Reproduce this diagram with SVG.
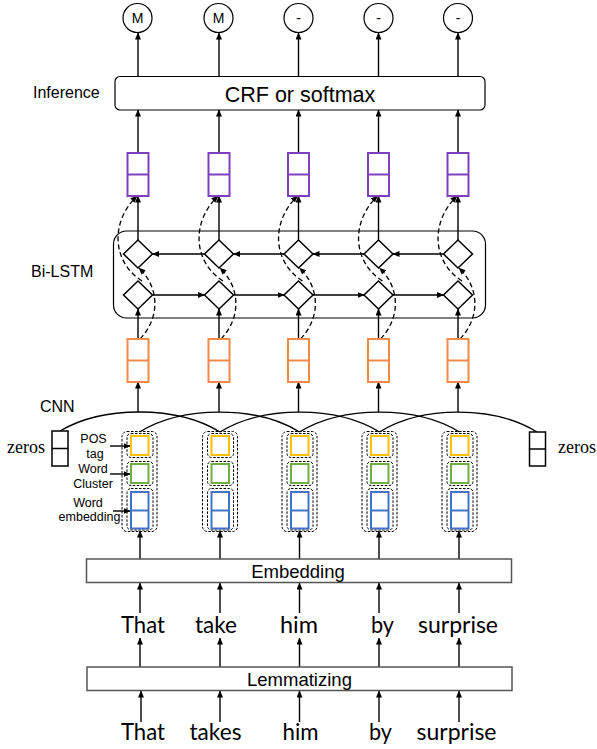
<svg xmlns="http://www.w3.org/2000/svg" width="597" height="749" viewBox="0 0 597 749">
<defs>
<marker id="ah" markerUnits="userSpaceOnUse" markerWidth="7" markerHeight="6" refX="6.5" refY="3" orient="auto">
<path d="M0,0 L7,3 L0,6 z" fill="#000"/>
</marker>
<style>
.ln{stroke:#000;stroke-width:1.4;fill:none}
.ar{stroke:#000;stroke-width:1.4;fill:none;marker-end:url(#ah)}
.da{stroke:#000;stroke-width:1.3;fill:none;stroke-dasharray:5,3;marker-end:url(#ah)}
.dg{stroke:#000;stroke-width:1;fill:none;stroke-dasharray:2.5,1.5}
.cir{stroke:#000;stroke-width:1.2;fill:#fff}
.dia{stroke:#000;stroke-width:1.5;fill:#fff}
.pur{stroke:#7F3FBF;stroke-width:2;fill:#fff}
.ora{stroke:#F08A48;stroke-width:2;fill:#fff}
.yel{stroke:#FFC000;stroke-width:2;fill:#fff}
.grn{stroke:#70AD47;stroke-width:2;fill:#fff}
.blu{stroke:#4472C4;stroke-width:2;fill:#fff}
.blk{stroke:#000;stroke-width:1.5;fill:#fff}
.bx{stroke:#555;stroke-width:1.5;fill:#fff}
.sans{font-family:"Liberation Sans",Arial,sans-serif;fill:#000}
.wd{font-family:Lato,"Noto Sans",sans-serif;font-size:23px;fill:#000;text-anchor:middle}
</style>
</defs>

<!-- connectors -->
<g id="connectors">
<line class="ar" x1="138" y1="77" x2="138" y2="33"/>
<line class="ar" x1="219" y1="77" x2="219" y2="33"/>
<line class="ar" x1="298.5" y1="77" x2="298.5" y2="33"/>
<line class="ar" x1="378.5" y1="77" x2="378.5" y2="33"/>
<line class="ar" x1="458" y1="77" x2="458" y2="33"/>
<line class="ar" x1="138" y1="153" x2="138" y2="110"/>
<line class="ar" x1="219" y1="153" x2="219" y2="110"/>
<line class="ar" x1="298.5" y1="153" x2="298.5" y2="110"/>
<line class="ar" x1="378.5" y1="153" x2="378.5" y2="110"/>
<line class="ar" x1="458" y1="153" x2="458" y2="110"/>
<line class="ar" x1="138" y1="240" x2="138" y2="196"/>
<line class="ar" x1="219" y1="240" x2="219" y2="196"/>
<line class="ar" x1="298.5" y1="240" x2="298.5" y2="196"/>
<line class="ar" x1="378.5" y1="240" x2="378.5" y2="196"/>
<line class="ar" x1="458" y1="240" x2="458" y2="196"/>
<line class="ar" x1="138" y1="339" x2="138" y2="309"/>
<line class="ar" x1="219" y1="339" x2="219" y2="309"/>
<line class="ar" x1="298.5" y1="339" x2="298.5" y2="309"/>
<line class="ar" x1="378.5" y1="339" x2="378.5" y2="309"/>
<line class="ar" x1="458" y1="339" x2="458" y2="309"/>
<line class="ar" x1="204.5" y1="254" x2="152.5" y2="254"/>
<line class="ar" x1="284" y1="254" x2="233.5" y2="254"/>
<line class="ar" x1="364" y1="254" x2="313" y2="254"/>
<line class="ar" x1="443.5" y1="254" x2="393" y2="254"/>
<line class="ar" x1="152.5" y1="295" x2="204.5" y2="295"/>
<line class="ar" x1="233.5" y1="295" x2="284" y2="295"/>
<line class="ar" x1="313" y1="295" x2="364" y2="295"/>
<line class="ar" x1="393" y1="295" x2="443.5" y2="295"/>
<path class="da" d="M140,339 C160,318 160,288 139,268"/>
<path class="da" d="M142,281 C112,262 110,222 137,196"/>
<path class="da" d="M221,339 C241,318 241,288 220,268"/>
<path class="da" d="M223,281 C193,262 191,222 218,196"/>
<path class="da" d="M300.5,339 C320.5,318 320.5,288 299.5,268"/>
<path class="da" d="M302.5,281 C272.5,262 270.5,222 297.5,196"/>
<path class="da" d="M380.5,339 C400.5,318 400.5,288 379.5,268"/>
<path class="da" d="M382.5,281 C352.5,262 350.5,222 377.5,196"/>
<path class="da" d="M460,339 C480,318 480,288 459,268"/>
<path class="da" d="M462,281 C432,262 430,222 457,196"/>
<path class="ln" d="M60,431 C103,405.5 177,405.5 220,432"/>
<path class="ln" d="M139.5,432 C182.5,405.5 256.5,405.5 299.5,432"/>
<path class="ln" d="M220,432 C263,405.5 336.5,405.5 379.5,432"/>
<path class="ln" d="M299.5,432 C342.5,405.5 416.5,405.5 459.5,432"/>
<path class="ln" d="M379.5,432 C422,405.5 494,405.5 537,432"/>
<line class="ar" x1="138" y1="412" x2="138" y2="382"/>
<line class="ar" x1="219" y1="412" x2="219" y2="382"/>
<line class="ar" x1="298.5" y1="412" x2="298.5" y2="382"/>
<line class="ar" x1="378.5" y1="412" x2="378.5" y2="382"/>
<line class="ar" x1="458" y1="412" x2="458" y2="382"/>
<line class="ar" x1="110" y1="446" x2="130" y2="446"/>
<line class="ar" x1="110" y1="474" x2="130" y2="474"/>
<line class="ar" x1="113" y1="511" x2="130" y2="511"/>
<line class="ar" x1="140" y1="559" x2="140" y2="531"/>
<line class="ar" x1="220" y1="559" x2="220" y2="531"/>
<line class="ar" x1="299.5" y1="559" x2="299.5" y2="531"/>
<line class="ar" x1="379" y1="559" x2="379" y2="531"/>
<line class="ar" x1="459" y1="559" x2="459" y2="531"/>
<line class="ar" x1="140" y1="613" x2="140" y2="583"/>
<line class="ar" x1="220" y1="613" x2="220" y2="583"/>
<line class="ar" x1="299.5" y1="613" x2="299.5" y2="583"/>
<line class="ar" x1="379" y1="613" x2="379" y2="583"/>
<line class="ar" x1="459" y1="613" x2="459" y2="583"/>
<line class="ar" x1="140" y1="667" x2="140" y2="638"/>
<line class="ar" x1="220" y1="667" x2="220" y2="638"/>
<line class="ar" x1="299.5" y1="667" x2="299.5" y2="638"/>
<line class="ar" x1="379" y1="667" x2="379" y2="638"/>
<line class="ar" x1="459" y1="667" x2="459" y2="638"/>
<line class="ar" x1="141" y1="722" x2="141" y2="691"/>
<line class="ar" x1="220" y1="722" x2="220" y2="691"/>
<line class="ar" x1="299.5" y1="722" x2="299.5" y2="691"/>
<line class="ar" x1="379" y1="722" x2="379" y2="691"/>
<line class="ar" x1="459" y1="722" x2="459" y2="691"/>
</g>

<g id="out1"><circle class="cir" cx="137.5" cy="18" r="14.5"/><text class="sans" x="137.5" y="23" font-size="14" text-anchor="middle">M</text></g>
<g id="out2"><circle class="cir" cx="218.5" cy="18" r="14.5"/><text class="sans" x="218.5" y="23" font-size="14" text-anchor="middle">M</text></g>
<g id="out3"><circle class="cir" cx="298.5" cy="18" r="14.5"/><text class="sans" x="298.5" y="23" font-size="14" text-anchor="middle">-</text></g>
<g id="out4"><circle class="cir" cx="378.5" cy="18" r="14.5"/><text class="sans" x="378.5" y="23" font-size="14" text-anchor="middle">-</text></g>
<g id="out5"><circle class="cir" cx="458" cy="18" r="14.5"/><text class="sans" x="458" y="23" font-size="14" text-anchor="middle">-</text></g>

<g id="inference">
<text class="sans" x="33" y="98" font-size="16">Inference</text>
<rect x="115" y="76.5" width="370" height="33.5" rx="5" fill="#fff" stroke="#000" stroke-width="1.2"/>
<text class="sans" x="300" y="102" font-size="21.5" text-anchor="middle">CRF or softmax</text>
</g>

<g id="bilstm-out">
<rect class="pur" x="127.5" y="153" width="21" height="43"/><line class="pur" x1="127.5" y1="174.5" x2="148.5" y2="174.5"/>
<rect class="pur" x="208.5" y="153" width="21" height="43"/><line class="pur" x1="208.5" y1="174.5" x2="229.5" y2="174.5"/>
<rect class="pur" x="288" y="153" width="21" height="43"/><line class="pur" x1="288" y1="174.5" x2="309" y2="174.5"/>
<rect class="pur" x="368" y="153" width="21" height="43"/><line class="pur" x1="368" y1="174.5" x2="389" y2="174.5"/>
<rect class="pur" x="447.5" y="153" width="21" height="43"/><line class="pur" x1="447.5" y1="174.5" x2="468.5" y2="174.5"/>
</g>

<g id="bilstm">
<text class="sans" x="31" y="277" font-size="16">Bi-LSTM</text>
<rect x="113.5" y="231" width="372" height="87" rx="13" fill="none" stroke="#000" stroke-width="1.2"/>
<g id="cells">
<path class="dia" d="M138,240 L152.5,254 L138,268 L123.5,254 z"/>
<path class="dia" d="M138,281 L152.5,295 L138,309 L123.5,295 z"/>
<path class="dia" d="M219,240 L233.5,254 L219,268 L204.5,254 z"/>
<path class="dia" d="M219,281 L233.5,295 L219,309 L204.5,295 z"/>
<path class="dia" d="M298.5,240 L313,254 L298.5,268 L284,254 z"/>
<path class="dia" d="M298.5,281 L313,295 L298.5,309 L284,295 z"/>
<path class="dia" d="M378.5,240 L393,254 L378.5,268 L364,254 z"/>
<path class="dia" d="M378.5,281 L393,295 L378.5,309 L364,295 z"/>
<path class="dia" d="M458,240 L472.5,254 L458,268 L443.5,254 z"/>
<path class="dia" d="M458,281 L472.5,295 L458,309 L443.5,295 z"/>
</g>
</g>

<g id="cnn-out">
<rect class="ora" x="127.5" y="339" width="21" height="43"/><line class="ora" x1="127.5" y1="360.5" x2="148.5" y2="360.5"/>
<rect class="ora" x="208.5" y="339" width="21" height="43"/><line class="ora" x1="208.5" y1="360.5" x2="229.5" y2="360.5"/>
<rect class="ora" x="288" y="339" width="21" height="43"/><line class="ora" x1="288" y1="360.5" x2="309" y2="360.5"/>
<rect class="ora" x="368" y="339" width="21" height="43"/><line class="ora" x1="368" y1="360.5" x2="389" y2="360.5"/>
<rect class="ora" x="447.5" y="339" width="21" height="43"/><line class="ora" x1="447.5" y1="360.5" x2="468.5" y2="360.5"/>
</g>

<g id="cnn-label"><text class="sans" x="40" y="412" font-size="16">CNN</text></g>

<g id="zeros-left">
<text x="7" y="453" font-size="18" font-family="'Liberation Serif', 'DejaVu Serif', serif" fill="#000">zeros</text>
<rect class="blk" x="52" y="431" width="16" height="35"/><line class="blk" x1="52" y1="448.5" x2="68" y2="448.5"/>
</g>
<g id="zeros-right">
<rect class="blk" x="529.5" y="432" width="16" height="34"/><line class="blk" x1="529.5" y1="449" x2="545.5" y2="449"/>
<text x="558" y="453" font-size="18" font-family="'Liberation Serif', 'DejaVu Serif', serif" fill="#000">zeros</text>
</g>

<g id="labels" class="sans" font-size="12.5" text-anchor="middle">
<text x="93.5" y="442.5">POS</text>
<text x="95" y="458">tag</text>
<text x="93" y="473">Word</text>
<text x="93" y="488">Cluster</text>
<text x="88" y="507">Word</text>
<text x="89.5" y="521">embedding</text>
</g>

<g id="feat1">
<rect class="dg" x="122" y="431.5" width="35" height="100" rx="5"/>
<rect class="dg" x="127" y="433.5" width="26" height="24" rx="4"/>
<rect class="dg" x="127" y="461.5" width="26" height="24" rx="4"/>
<rect class="dg" x="127" y="488.5" width="26" height="41.5" rx="4"/>
<rect class="yel" x="131" y="436" width="17.5" height="19"/>
<rect class="grn" x="131" y="464" width="17.5" height="19"/>
<rect class="blu" x="131" y="492" width="17.5" height="36.5"/><line class="blu" x1="131" y1="510.5" x2="148.5" y2="510.5"/>
</g>
<g id="feat2">
<rect class="dg" x="202.5" y="431.5" width="35" height="100" rx="5"/>
<rect class="dg" x="207.5" y="433.5" width="26" height="24" rx="4"/>
<rect class="dg" x="207.5" y="461.5" width="26" height="24" rx="4"/>
<rect class="dg" x="207.5" y="488.5" width="26" height="41.5" rx="4"/>
<rect class="yel" x="211.5" y="436" width="17.5" height="19"/>
<rect class="grn" x="211.5" y="464" width="17.5" height="19"/>
<rect class="blu" x="211.5" y="492" width="17.5" height="36.5"/><line class="blu" x1="211.5" y1="510.5" x2="229" y2="510.5"/>
</g>
<g id="feat3">
<rect class="dg" x="282" y="431.5" width="35" height="100" rx="5"/>
<rect class="dg" x="287" y="433.5" width="26" height="24" rx="4"/>
<rect class="dg" x="287" y="461.5" width="26" height="24" rx="4"/>
<rect class="dg" x="287" y="488.5" width="26" height="41.5" rx="4"/>
<rect class="yel" x="291" y="436" width="17.5" height="19"/>
<rect class="grn" x="291" y="464" width="17.5" height="19"/>
<rect class="blu" x="291" y="492" width="17.5" height="36.5"/><line class="blu" x1="291" y1="510.5" x2="308.5" y2="510.5"/>
</g>
<g id="feat4">
<rect class="dg" x="362" y="431.5" width="35" height="100" rx="5"/>
<rect class="dg" x="367" y="433.5" width="26" height="24" rx="4"/>
<rect class="dg" x="367" y="461.5" width="26" height="24" rx="4"/>
<rect class="dg" x="367" y="488.5" width="26" height="41.5" rx="4"/>
<rect class="yel" x="371" y="436" width="17.5" height="19"/>
<rect class="grn" x="371" y="464" width="17.5" height="19"/>
<rect class="blu" x="371" y="492" width="17.5" height="36.5"/><line class="blu" x1="371" y1="510.5" x2="388.5" y2="510.5"/>
</g>
<g id="feat5">
<rect class="dg" x="442" y="431.5" width="35" height="100" rx="5"/>
<rect class="dg" x="447" y="433.5" width="26" height="24" rx="4"/>
<rect class="dg" x="447" y="461.5" width="26" height="24" rx="4"/>
<rect class="dg" x="447" y="488.5" width="26" height="41.5" rx="4"/>
<rect class="yel" x="451" y="436" width="17.5" height="19"/>
<rect class="grn" x="451" y="464" width="17.5" height="19"/>
<rect class="blu" x="451" y="492" width="17.5" height="36.5"/><line class="blu" x1="451" y1="510.5" x2="468.5" y2="510.5"/>
</g>

<g id="embedding">
<rect class="bx" x="86.5" y="559" width="425" height="23.5"/>
<text class="sans" x="298" y="578" font-size="18.5" text-anchor="middle">Embedding</text>
</g>

<g id="lemmas">
<text class="wd" x="143" y="633" textLength="44" lengthAdjust="spacingAndGlyphs">That</text>
<text class="wd" x="216" y="633" textLength="42" lengthAdjust="spacingAndGlyphs">take</text>
<text class="wd" x="299" y="633" textLength="38" lengthAdjust="spacingAndGlyphs">him</text>
<text class="wd" x="382.5" y="633" textLength="23" lengthAdjust="spacingAndGlyphs">by</text>
<text class="wd" x="458" y="633" textLength="80" lengthAdjust="spacingAndGlyphs">surprise</text>
</g>

<g id="lemmatizing">
<rect class="bx" x="87" y="667" width="425" height="23.5"/>
<text class="sans" x="299.5" y="686" font-size="18.5" text-anchor="middle">Lemmatizing</text>
</g>

<g id="words">
<text class="wd" x="143" y="740" textLength="44" lengthAdjust="spacingAndGlyphs">That</text>
<text class="wd" x="215.5" y="740" textLength="52" lengthAdjust="spacingAndGlyphs">takes</text>
<text class="wd" x="300.5" y="740" textLength="36" lengthAdjust="spacingAndGlyphs">him</text>
<text class="wd" x="380.5" y="740" textLength="23" lengthAdjust="spacingAndGlyphs">by</text>
<text class="wd" x="456.5" y="740" textLength="80" lengthAdjust="spacingAndGlyphs">surprise</text>
</g>
</svg>
